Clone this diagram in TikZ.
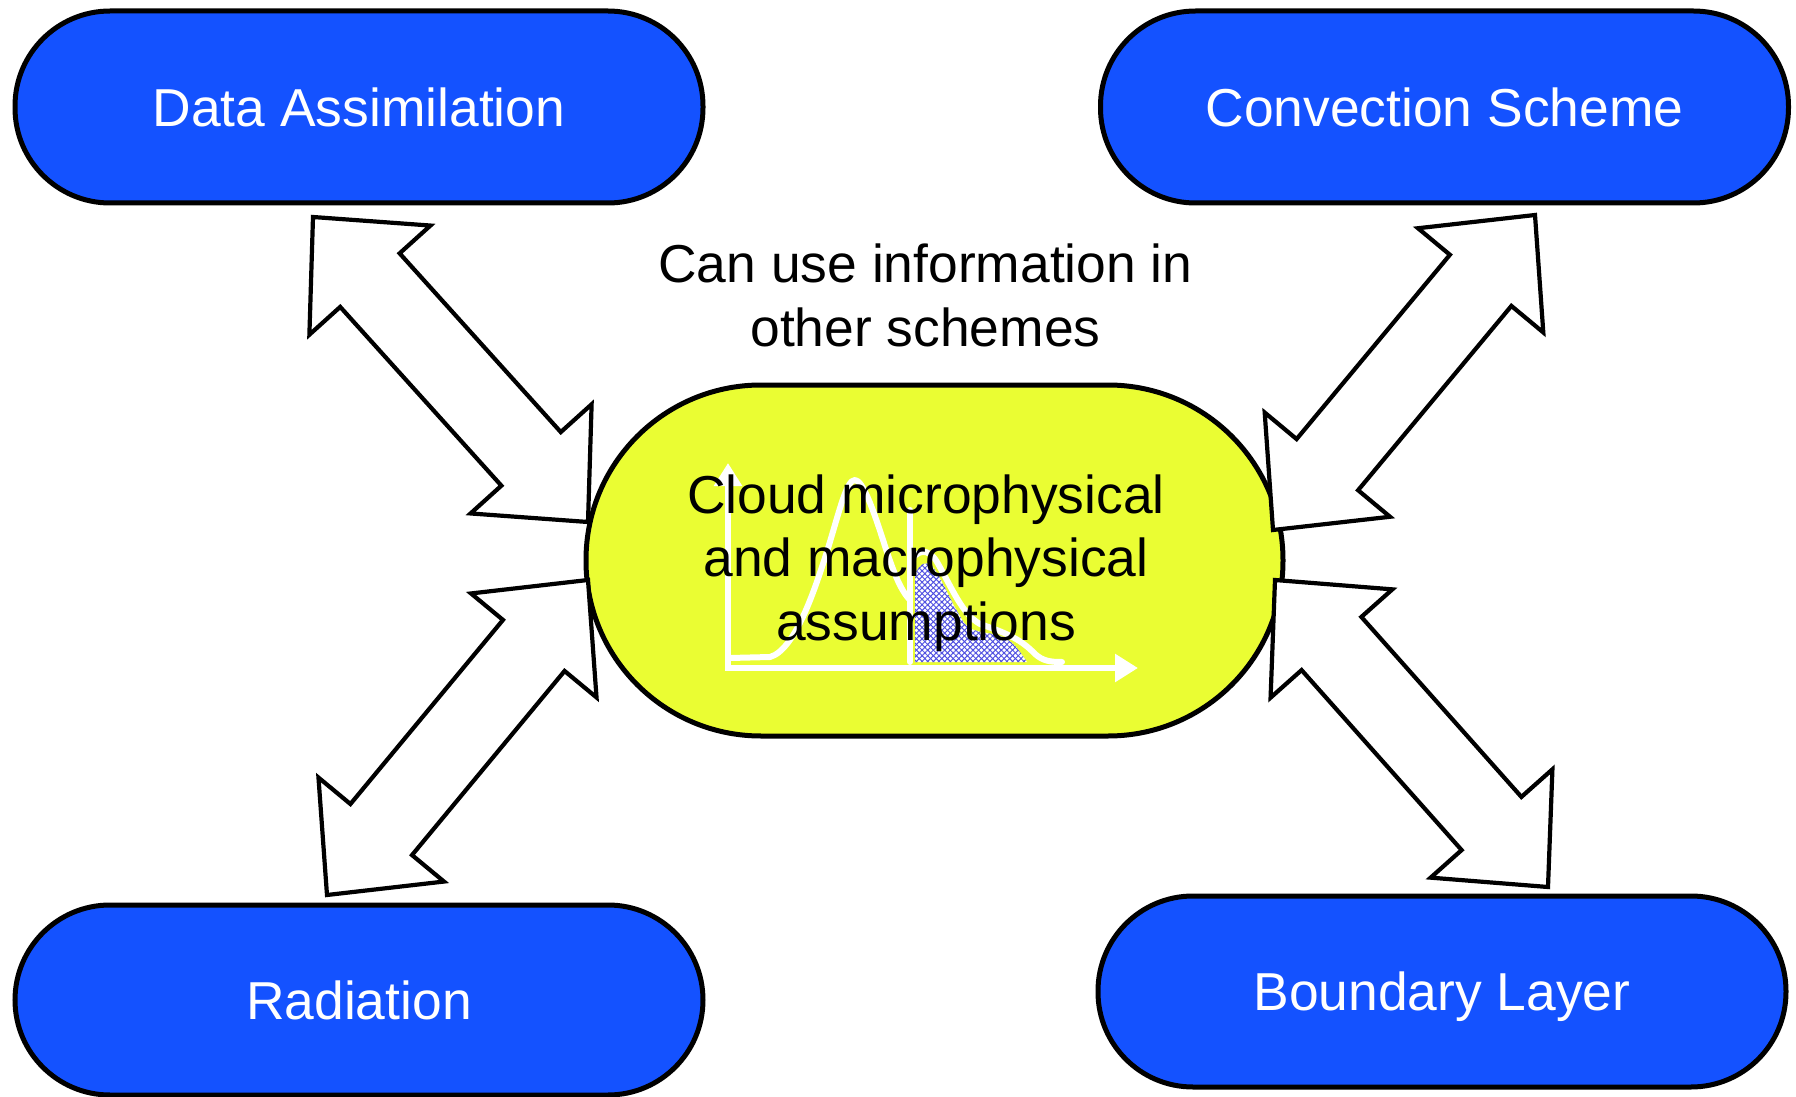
\documentclass[tikz,border=0pt]{standalone}
\usepackage{fontspec}
\setmainfont{Liberation Sans}
\usetikzlibrary{calc,arrows.meta,patterns.meta}

\definecolor{boxblue}{RGB}{20,82,255}
\definecolor{cloudyellow}{RGB}{234,253,51}
\definecolor{hatchblue}{RGB}{80,80,225}

% double-headed block arrow between two named points, tip to tip
\newcommand\twowayarrow[2]{%
  \path ($(#1)!42.5pt!(#2)$) coordinate (tw-a)
        ($(#2)!42.5pt!(#1)$) coordinate (tw-b);
  \draw[blockarrow] (#1)
    -- ($(tw-a)!40.75pt!90:(#2)$) -- ($(tw-a)!20pt!90:(#2)$)
    -- ($(tw-b)!20pt!-90:(#1)$) -- ($(tw-b)!40.75pt!-90:(#1)$)
    -- (#2)
    -- ($(tw-b)!40.75pt!90:(#1)$) -- ($(tw-b)!20pt!90:(#1)$)
    -- ($(tw-a)!20pt!-90:(#2)$) -- ($(tw-a)!40.75pt!-90:(#2)$)
    -- cycle;}

\begin{document}
\begin{tikzpicture}[x=0.5pt,y=-0.5pt,
  labelfont/.style={font=\fontsize{26.7pt}{31.75pt}\selectfont},
  scheme/.style={labelfont, draw=black, line width=2.5pt, fill=boxblue,
    text=white, rounded corners=47.5pt, minimum width=344pt,
    minimum height=96pt, inner sep=0pt, text height=19.1pt, text depth=0pt},
  cloudbox/.style={draw=black, line width=2.5pt, fill=cloudyellow,
    rounded corners=87.5pt, minimum width=348.5pt, minimum height=175.5pt,
    inner sep=0pt},
  caption/.style={labelfont, align=center, anchor=base, inner sep=0pt},
  blockarrow/.style={draw=black, fill=white, line width=2.1pt, miter limit=10},
  curve/.style={white, line width=3pt, line cap=round, line join=round},
  axis/.style={white, line width=3.2pt,
    {Triangle[length=11.5pt,width=13.5pt]}-{Triangle[length=11.5pt,width=13.5pt]}},
]
\useasboundingbox (0,0) rectangle (1796,1097);

% the four neighbouring schemes
\node[scheme] (da)   at (359,107)    {Data Assimilation};
\node[scheme] (conv) at (1444.5,107) {Convection Scheme};
\node[scheme, minimum height=95pt] (rad) at (359,1000) {Radiation};
\node[scheme, minimum height=95.5pt] (bl) at (1442,991.5) {Boundary Layer};

% central cloud scheme
\node[cloudbox] (cloud) at (934.5,560.5) {};

% sketch of a split size distribution inside the cloud box
\def\shadepath{(915,662) -- (915,574)
  .. controls (920,564) and (926,560) .. (932,566)
  .. controls (942,578) and (952,606) .. (965,624)
  .. controls (972,634) and (995,632) .. (1005,638)
  .. controls (1015,644) and (1020,652) .. (1027,662) -- cycle}
\fill[white] \shadepath;
\path[pattern={Lines[angle=45,distance=2pt,line width=0.5pt]},
      pattern color=hatchblue] \shadepath;
\path[pattern={Lines[angle=-45,distance=2pt,line width=0.5pt]},
      pattern color=hatchblue] \shadepath;
\draw[curve] (730,658) -- (770,657)
  .. controls (795,650) and (815,590) .. (829,545)
  .. controls (841,505) and (847,480) .. (855,480)
  .. controls (863,480) and (874,512) .. (884,543)
  .. controls (892,568) and (900,590) .. (910,600);
\draw[curve] (910,510) -- (910,662);
\draw[curve] (910,562)
  .. controls (917,550) and (928,547) .. (937,562)
  .. controls (952,588) and (962,614) .. (980,624)
  .. controls (1003,632) and (1020,638) .. (1035,654)
  .. controls (1043,661) and (1050,662) .. (1062,662);
\draw[axis] (728,463) -- (728,668) -- (1138,668);

\node[caption] (cloudtext) at (926,640)
  {Cloud microphysical\\and macrophysical\\assumptions};
\node[caption] (note) at (925.5,346) {Can use information in\\other schemes};

% two-way links between the cloud scheme and its neighbours
\coordinate (da-end)   at (313,217);
\coordinate (da-cl)    at (588,522);
\coordinate (conv-end) at (1535,215);
\coordinate (conv-cl)  at (1273,530);
\coordinate (rad-end)  at (327,895);
\coordinate (rad-cl)   at (588,580);
\coordinate (bl-end)   at (1548,887);
\coordinate (bl-cl)    at (1275,580);
\twowayarrow{da-end}{da-cl}
\twowayarrow{conv-end}{conv-cl}
\twowayarrow{rad-cl}{rad-end}
\twowayarrow{bl-cl}{bl-end}
\end{tikzpicture}
\end{document}
